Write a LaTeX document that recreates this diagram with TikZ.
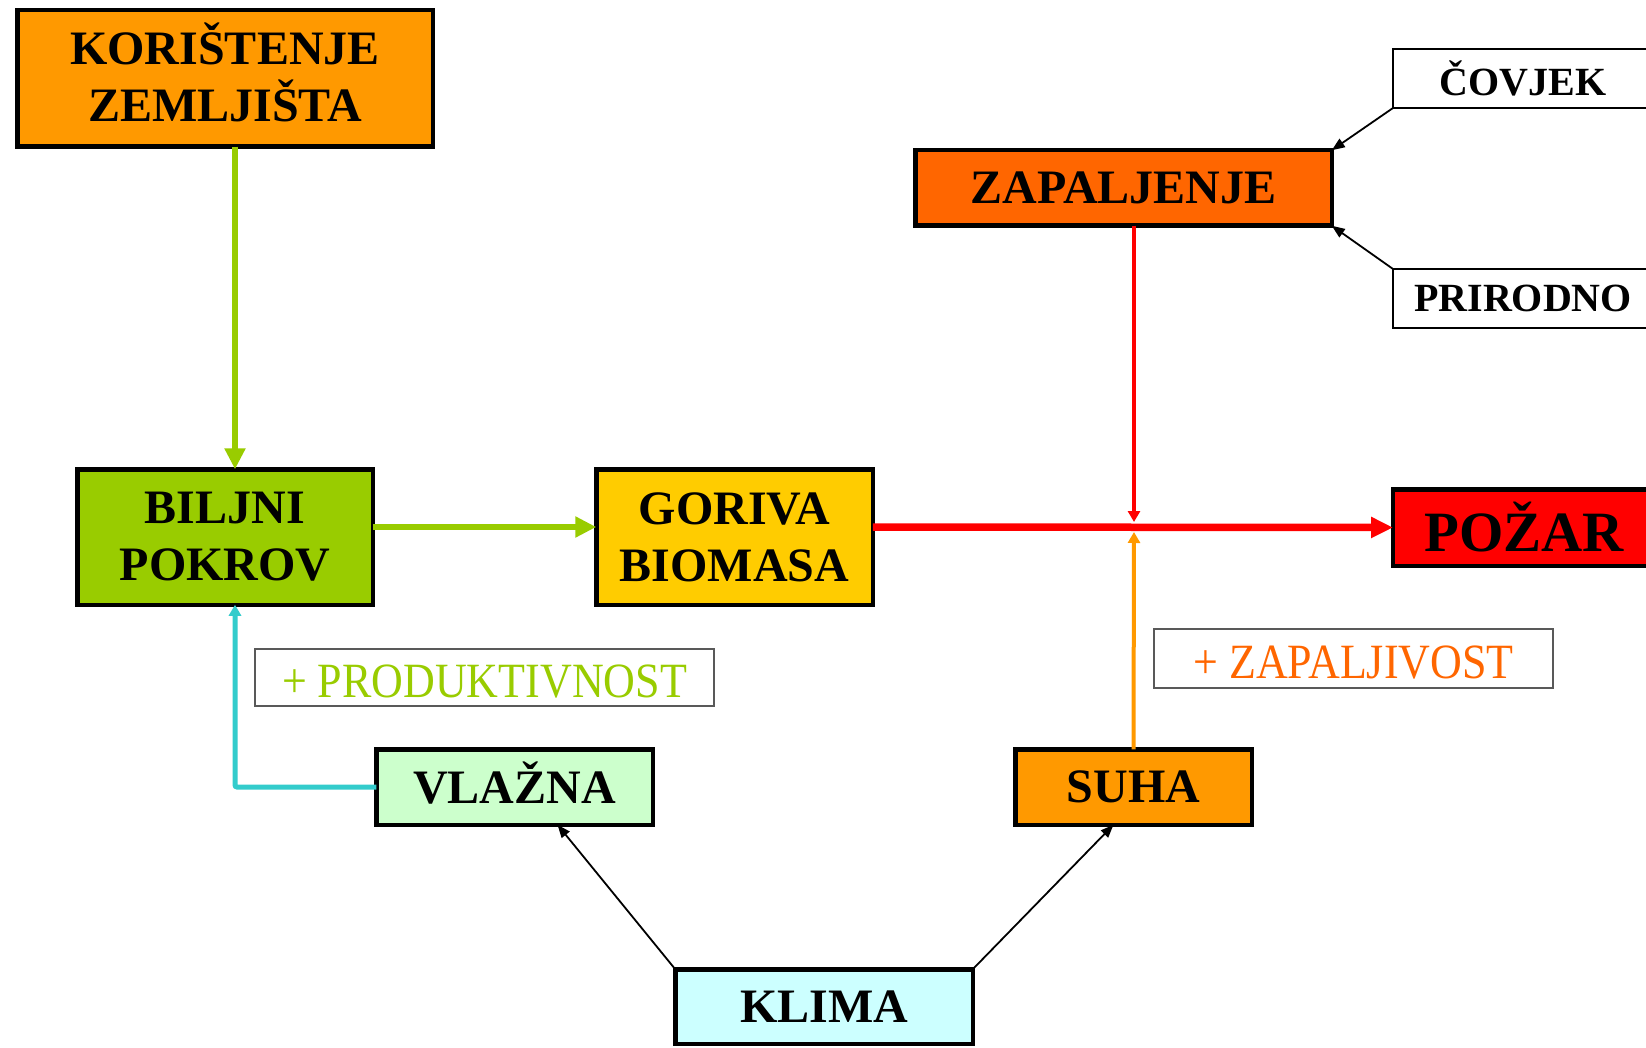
\documentclass[tikz,border=0pt]{standalone}
\usepackage{fontspec}
\setmainfont{Liberation Serif}
\usetikzlibrary{arrows.meta}
\definecolor{cOrange}{HTML}{FF9900}
\definecolor{cDeepOrange}{HTML}{FF6600}
\definecolor{cGreen}{HTML}{99CC00}
\definecolor{cGold}{HTML}{FFCC00}
\definecolor{cRed}{HTML}{FF0000}
\definecolor{cMint}{HTML}{CCFFCC}
\definecolor{cIce}{HTML}{CCFFFF}
\definecolor{cCyan}{HTML}{33CCCC}
\begin{document}
\begin{tikzpicture}[x=1pt,y=-1pt,
  box/.style={draw=black, line width=4.5pt, inner sep=0pt, outer sep=0pt, align=center,
    font=\bfseries\fontsize{48}{57}\selectfont},
  lbl/.style={draw=black, line width=1.3pt, inner sep=0pt, outer sep=0pt, fill=white,
    minimum width=260pt, minimum height=59pt, font=\bfseries\fontsize{40}{48}\selectfont},
  note/.style={draw=black!65, line width=1.2pt, inner sep=0pt, outer sep=0pt,
    text height=39pt, text depth=0pt, font=\fontsize{44}{50}\selectfont},
  thinarrow/.style={-{Triangle[length=13pt,width=10pt]}, line width=1.8pt, black},
  bigarrow/.style={-{Triangle[length=21pt,width=20pt]}, line width=6.5pt},
  smallarrow/.style={-{Triangle[length=11pt,width=12pt]}}
]
\useasboundingbox (0,0) rectangle (1646,1048);
\fill[white] (0,0) rectangle (1646,1048);

\node[box, fill=cOrange, minimum width=415.5pt, minimum height=136.5pt, text depth=12pt] (kor) at (225,78.5) {KORIŠTENJE\\ZEMLJIŠTA};
\node[box, fill=cDeepOrange, minimum width=416.5pt, minimum height=75.5pt] (zap) at (1123.5,188) {ZAPALJENJE};
\node[lbl] (cov) at (1523,78.5) {ČOVJEK};
\node[lbl] (pri) at (1523,298.5) {PRIRODNO};
\node[box, fill=cGreen, minimum width=295.5pt, minimum height=135.5pt] (bilj) at (225,537) {BILJNI\\POKROV};
\node[box, fill=cGold, minimum width=276.5pt, minimum height=135.5pt] (gor) at (734.5,537) {GORIVA\\BIOMASA};
\node[box, fill=cRed, minimum width=262pt, minimum height=76.5pt, font=\bfseries\fontsize{57}{64}\selectfont] (poz) at (1524,527.5) {POŽAR};
\node[note, text=cGreen, minimum width=459pt, minimum height=57pt] (prod) at (484.5,677.5) {\scalebox{1}[1.12]{+ PRODUKTIVNOST}};
\node[note, text=cDeepOrange, minimum width=399pt, minimum height=59pt] (zapv) at (1353.5,658.5) {\scalebox{1}[1.12]{+ ZAPALJIVOST}};
\node[box, fill=cMint, minimum width=276.5pt, minimum height=75.5pt, text height=32pt, text depth=0pt] (vla) at (514.5,787) {VLAŽNA};
\node[box, fill=cOrange, minimum width=236.5pt, minimum height=75.5pt] (suha) at (1133.5,787) {SUHA};
\node[box, fill=cIce, minimum width=297.5pt, minimum height=74.5pt] (klima) at (824,1006.5) {KLIMA};

\coordinate (jtop) at (1134,522);
\coordinate (jbot) at (1134,532);

% green flows
\draw[bigarrow, cGreen] ([xshift=10pt]kor.south) -- ([xshift=10pt]bilj.north);
\draw[bigarrow, cGreen] ([yshift=10pt]bilj.east) -- ([yshift=10pt]gor.west);
% red main flow
\draw[-{Triangle[length=22pt,width=20pt]}, line width=7.5pt, cRed] ([yshift=10pt]gor.east) -- (poz.west);
% ignition
\draw[smallarrow, line width=3.5pt, cRed] ([xshift=10.5pt]zap.south) -- (jtop);
\draw[smallarrow, line width=4pt, cOrange] (suha.north) -- (jbot);
% moisture
\draw[-{Triangle[length=11pt,width=12pt]}, line width=5pt, cCyan, rounded corners=2pt] (vla.west) -| ([xshift=10pt]bilj.south);
% climate
\draw[thinarrow] (klima.north west) -- ([xshift=43pt]vla.south);
\draw[thinarrow] (klima.north east) -- ([xshift=-20pt]suha.south);
% ignition sources
\draw[thinarrow] (cov.south west) -- (zap.north east);
\draw[thinarrow] (pri.north west) -- (zap.south east);
\end{tikzpicture}
\end{document}
